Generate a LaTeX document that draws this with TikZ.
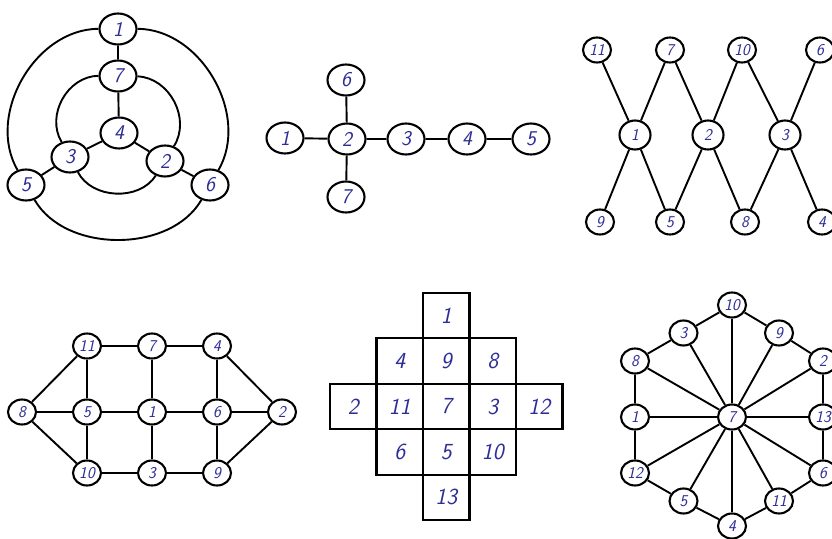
\documentclass[tikz,border=0pt]{standalone}
\usepackage{tikz}
\usetikzlibrary{shapes.geometric}

\definecolor{ink}{RGB}{45,45,150}

\tikzset{
    vtx/.style={ellipse, draw, line width=2.1pt, fill=white, inner sep=0pt,
        minimum width=28pt, minimum height=25pt, text=ink,
        font=\sffamily\slshape\fontsize{16.5}{16.5}\selectfont},
    bigvtx/.style={vtx, minimum width=37pt, minimum height=31pt,
        font=\sffamily\slshape\fontsize{21}{21}\selectfont},
    cell/.style={rectangle, draw, line width=2.1pt, inner sep=0pt,
        minimum width=46.5pt, minimum height=45.4pt, text=ink,
        font=\sffamily\slshape\fontsize{23}{23}\selectfont},
    edge/.style={line width=1.9pt}
}

\begin{document}
\begin{tikzpicture}[x=1pt, y=1pt]
    \useasboundingbox (0,0) rectangle (832,-538);

    % Wheels inside wheels
    \node[bigvtx] (a1) at (118,-29) {1};
    \node[bigvtx] (a7) at (118,-76) {7};
    \node[bigvtx] (a4) at (119,-133) {4};
    \node[bigvtx] (a3) at (70,-157) {3};
    \node[bigvtx] (a2) at (165,-161) {2};
    \node[bigvtx] (a5) at (26,-185) {5};
    \node[bigvtx] (a6) at (210,-185) {6};
    \draw[edge] (a1) -- (a7) -- (a4);
    \draw[edge] (a4) -- (a3) -- (a5);
    \draw[edge] (a4) -- (a2) -- (a6);
    \draw[edge, looseness=1.05] (a7) to[bend right=60] (a3);
    \draw[edge, looseness=1.0] (a3) to[bend right=60] (a2);
    \draw[edge, looseness=1.05] (a2) to[bend right=60] (a7);
    \draw[edge, looseness=1.0] (a1) to[bend right=60] (a5);
    \draw[edge, looseness=0.95] (a5) to[bend right=60] (a6);
    \draw[edge, looseness=1.0] (a6) to[bend right=60] (a1);

    % Tree
    \node[bigvtx] (b1) at (285,-138) {1};
    \node[bigvtx] (b2) at (347,-139) {2};
    \node[bigvtx] (b3) at (406,-139) {3};
    \node[bigvtx] (b4) at (467,-139) {4};
    \node[bigvtx] (b5) at (531,-139) {5};
    \node[bigvtx] (b6) at (346,-80) {6};
    \node[bigvtx] (b7) at (346,-197) {7};
    \draw[edge] (b1) -- (b2) -- (b3) -- (b4) -- (b5);
    \draw[edge] (b6) -- (b2) -- (b7);

    % Zigzag
    \node[vtx] (c11) at (597,-50) {11};
    \node[vtx] (c7) at (670,-50) {7};
    \node[vtx] (c10) at (742,-50) {10};
    \node[vtx] (c6) at (820,-50) {6};
    \node[vtx, minimum width=31pt, minimum height=29pt] (c1) at (635,-135) {1};
    \node[vtx, minimum width=31pt, minimum height=29pt] (c2) at (708,-135) {2};
    \node[vtx, minimum width=31pt, minimum height=29pt] (c3) at (785,-135) {3};
    \node[vtx] (c9) at (600,-222) {9};
    \node[vtx] (c5) at (670,-222) {5};
    \node[vtx] (c8) at (745,-222) {8};
    \node[vtx] (c4) at (822,-222) {4};
    \draw[edge] (c11) -- (c1) -- (c7) -- (c2) -- (c10) -- (c3) -- (c6);
    \draw[edge] (c9) -- (c1) -- (c5) -- (c2) -- (c8) -- (c3) -- (c4);

    % Ladder
    \node[vtx] (d11) at (87,-346) {11};
    \node[vtx] (d7) at (152,-346) {7};
    \node[vtx] (d4) at (217,-346) {4};
    \node[vtx] (d8) at (22,-412) {8};
    \node[vtx] (d5) at (87,-412) {5};
    \node[vtx] (d1) at (152,-412) {1};
    \node[vtx] (d6) at (217,-412) {6};
    \node[vtx] (d2) at (282,-412) {2};
    \node[vtx] (d10) at (87,-473) {10};
    \node[vtx] (d3) at (152,-473) {3};
    \node[vtx] (d9) at (217,-473) {9};
    \draw[edge] (d8) -- (d11) -- (d7) -- (d4) -- (d2) -- (d9) -- (d3) -- (d10) -- (d8);
    \draw[edge] (d8) -- (d5) -- (d1) -- (d6) -- (d2);
    \draw[edge] (d11) -- (d5) -- (d10);
    \draw[edge] (d7) -- (d1) -- (d3);
    \draw[edge] (d4) -- (d6) -- (d9);

    % Cross of squares
    \node[cell] (e1) at (446.25,-315.7) {1};
    \node[cell] (e4) at (399.75,-361.1) {4};
    \node[cell] (e9) at (446.25,-361.1) {9};
    \node[cell] (e8) at (492.75,-361.1) {8};
    \node[cell] (e2) at (353.25,-406.5) {2};
    \node[cell] (e11) at (399.75,-406.5) {11};
    \node[cell] (e7) at (446.25,-406.5) {7};
    \node[cell] (e3) at (492.75,-406.5) {3};
    \node[cell] (e12) at (539.25,-406.5) {12};
    \node[cell] (e6) at (399.75,-451.9) {6};
    \node[cell] (e5) at (446.25,-451.9) {5};
    \node[cell] (e10) at (492.75,-451.9) {10};
    \node[cell] (e13) at (446.25,-497.3) {13};

    % Wheel
    \node[vtx] (w7) at (732,-417) {7};
    \node[vtx] (w10) at (732,-305) {10};
    \node[vtx] (w9) at (779,-333) {9};
    \node[vtx] (w2) at (823,-361) {2};
    \node[vtx] (w13) at (823,-417) {13};
    \node[vtx] (w6) at (823,-473) {6};
    \node[vtx] (w11) at (779,-501) {11};
    \node[vtx] (w4) at (732,-526) {4};
    \node[vtx] (w5) at (683.5,-501) {5};
    \node[vtx] (w12) at (635,-473) {12};
    \node[vtx] (w1) at (635,-417) {1};
    \node[vtx] (w8) at (635,-361) {8};
    \node[vtx] (w3) at (683.5,-333) {3};
    \draw[edge] (w10) -- (w9) -- (w2) -- (w13) -- (w6) -- (w11) -- (w4)
        -- (w5) -- (w12) -- (w1) -- (w8) -- (w3) -- (w10);
    \foreach \k in {10,9,2,13,6,11,4,5,12,1,8,3}
        \draw[edge] (w7) -- (w\k);
\end{tikzpicture}
\end{document}
